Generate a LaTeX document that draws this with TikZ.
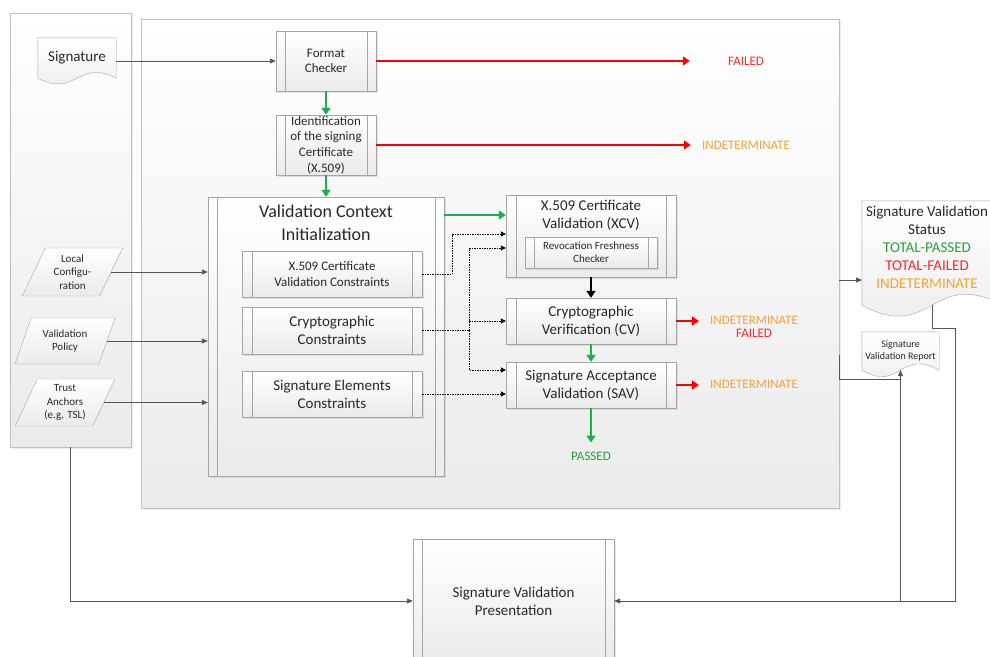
\documentclass[tikz,border=0pt]{standalone}
\usepackage{fontspec}
\setmainfont{Carlito}
\usetikzlibrary{arrows.meta,shapes.geometric,shadows,calc}
\pgfdeclarelayer{panels}
\pgfdeclarelayer{docs}
\pgfsetlayers{panels,docs,main}
\definecolor{cgreen}{RGB}{30,176,72}
\definecolor{cred}{RGB}{255,0,0}
\definecolor{lred}{RGB}{255,40,40}
\definecolor{corange}{RGB}{248,162,45}
\definecolor{lgreen}{RGB}{40,160,60}
\definecolor{cline}{RGB}{85,85,85}
\definecolor{cborder}{RGB}{165,165,165}
\definecolor{ctext}{RGB}{40,40,40}
\newcommand{\fsz}[2]{\fontsize{#1}{#2}\selectfont}
\tikzset{
 panel/.style={draw=black!25, top color=white, bottom color=black!8, inner sep=0pt,
   drop shadow={shadow xshift=1.5pt, shadow yshift=-1.5pt, opacity=0.15}},
 box/.style={draw=cborder, top color=white, bottom color=black!8, inner sep=0pt, align=center, text=ctext,
   drop shadow={shadow xshift=1.5pt, shadow yshift=-1.5pt, opacity=0.2}},
 sidebar/.style={path picture={\draw[cborder] ([xshift=#1]path picture bounding box.north west) -- ([xshift=#1]path picture bounding box.south west) ([xshift=-#1]path picture bounding box.north east) -- ([xshift=-#1]path picture bounding box.south east);}},
 sidebar/.default=9pt,
 txt/.style={inner sep=0pt, align=center, text=ctext},
 conn/.style={draw=cline, line width=0.9pt, -{Triangle[length=6pt,width=5pt]}},
 plainc/.style={draw=cline, line width=0.9pt},
 garrow/.style={draw=cgreen, line width=2.6pt, -{Triangle[length=7pt,width=9pt]}},
 rarrow/.style={draw=cred, line width=2.6pt, -{Triangle[length=7pt,width=9pt]}},
 karrow/.style={draw=black, line width=2.6pt, -{Triangle[length=7pt,width=9pt]}},
 dotc/.style={draw=black, line width=0.9pt, dash pattern=on 1.5pt off 1pt, -{Triangle[length=5pt,width=5pt]}},
 dotl/.style={draw=black, line width=0.9pt, dash pattern=on 1.5pt off 1pt},
 para/.style={trapezium, trapezium left angle=65, trapezium right angle=115, trapezium stretches=true,
   draw=cborder, top color=white, bottom color=black!8, inner sep=0pt, align=center, text=ctext,
   font=\fsz{11}{13.3}},
 doc/.style={draw=cborder, top color=white, bottom color=black!8},
 lbl/.style={inner sep=0pt, align=center, font=\fsz{13}{12.7}},
}
\begin{document}
\begin{tikzpicture}[x=1pt,y=-1pt]
\useasboundingbox (0,0) rectangle (990,656);
% panels
\begin{pgfonlayer}{panels}
\node[panel, minimum width=121, minimum height=434] (lp) at (70.5,230) {};
\node[panel, minimum width=698, minimum height=489] (mp) at (490,263.5) {};
\end{pgfonlayer}

% left inputs
\node[txt, minimum width=78, minimum height=40, font=\fsz{15}{18}] (sig) at (77,58) {Signature};
\begin{pgfonlayer}{docs}
\path[doc] (sig.north west) -- (sig.north east) -- (sig.south east)
  .. controls ($(sig.south)+(0,-20)$) and ($(sig.south)+(0,20)$) .. (sig.south west) -- cycle;
\end{pgfonlayer}
\node[para, minimum width=101, minimum height=48] (lc) at (72.5,272) {Local\\Configu-\\ration};
\node[para, minimum width=100, minimum height=46] (vp) at (65,341) {Validation\\Policy};
\node[para, minimum width=100, minimum height=47] (ta) at (65,402.5) {Trust\\Anchors\\(e.g. TSL)};

% main column
\node[box, sidebar, minimum width=100, minimum height=60, font=\fsz{13}{15.7}] (fc) at (326,61) {Format\\Checker};
\node[box, sidebar, minimum width=100, minimum height=60, font=\fsz{13}{15.7}] (idc) at (326,145) {Identification\\of the signing\\Certificate\\(X.509)};
\node[box, sidebar, minimum width=236, minimum height=279] (vci) at (326,336.5) {};
\node[txt, font=\fsz{18}{23}] (vcit) at (326,222.5) {Validation Context\\Initialization};
\node[box, sidebar=10pt, minimum width=180, minimum height=46, font=\fsz{13}{15.7}] (xvc) at (332,274) {X.509 Certificate\\Validation Constraints};
\node[box, sidebar=10pt, minimum width=180, minimum height=47, font=\fsz{15}{18.3}] (cc) at (332,330.5) {Cryptographic\\Constraints};
\node[box, sidebar=10pt, minimum width=180, minimum height=46, font=\fsz{15}{18.3}] (sec) at (332,394) {Signature Elements\\Constraints};

% validation blocks
\node[box, sidebar=10pt, minimum width=170, minimum height=82] (xcv) at (591,236) {};
\node[txt, font=\fsz{15}{18}] (xcvt) at (591,215) {X.509 Certificate\\Validation (XCV)};
\node[box, sidebar, minimum width=132, minimum height=31, font=\fsz{11}{13.3}] (rfc) at (591,252.5) {Revocation Freshness\\Checker};
\node[box, sidebar=10pt, minimum width=170, minimum height=46, font=\fsz{15}{18}] (cv) at (591,321) {Cryptographic\\Verification (CV)};
\node[box, sidebar=10pt, minimum width=170, minimum height=46, font=\fsz{15}{18}] (sav) at (591,385) {Signature Acceptance\\Validation (SAV)};

% result labels
\node[lbl, minimum width=90, text=lred] (fail1) at (746,61) {FAILED};
\node[lbl, minimum width=90, text=corange] (ind1) at (746,145) {INDETERMINATE};
\node[lbl] (ind2) at (754,327) {\textcolor{corange}{INDETERMINATE}\\\textcolor{lred}{FAILED}};
\node[lbl, text=corange] (ind3) at (754,384) {INDETERMINATE};
\node[lbl, text=lgreen] (passed) at (591,456) {PASSED};

% outputs
\node[txt, minimum width=140, minimum height=104] (svs) at (932,253) {};
\begin{pgfonlayer}{docs}
\path[doc] (svs.north west) -- (svs.north east) -- (svs.south east)
  .. controls ($(svs.south)+(0,-38)$) and ($(svs.south)+(0,38)$) .. (svs.south west) -- cycle;
\end{pgfonlayer}
\node[txt, font=\fsz{15}{18}] (svst) at (927,247.5) {Signature Validation\\Status\\\textcolor{lgreen}{TOTAL-PASSED}\\\textcolor{lred}{TOTAL-FAILED}\\\textcolor{corange}{INDETERMINATE}};
\node[txt, minimum width=77, minimum height=38, font=\fsz{10}{11.7}] (rep) at (900.5,351) {Signature\\Validation Report};
\begin{pgfonlayer}{docs}
\path[doc] (rep.north west) -- (rep.north east) -- (rep.south east)
  .. controls ($(rep.south)+(0,-22)$) and ($(rep.south)+(0,22)$) .. (rep.south west) -- cycle;
\end{pgfonlayer}
\node[box, sidebar, minimum width=201, minimum height=124, font=\fsz{15}{18.3}, drop shadow={opacity=0}] (pres) at (513.5,601) {Signature Validation\\Presentation};

\coordinate (svsin) at (862,280);
\coordinate (rbend) at (955,601);

% gray connectors
\draw[conn] (sig.east |- fc.west) -- (fc.west);
\draw[conn] (lc.east) -- (lc.east -| vci.west);
\draw[conn] (vp.east) -- (vp.east -| vci.west);
\draw[conn] (ta.east) -- (ta.east -| vci.west);
\draw[conn] (lp.south) |- (pres.west);
\draw[conn] (mp.east |- svsin) -- (svsin);
\draw[conn] (svs.south) -- ++(0,23) -| (rbend) -- (pres.east);
\draw[conn] ([yshift=-91.5pt]mp.east) |- ($(rep.south)+(0,9)$) -- (rep.south);
\draw[plainc] (rep.south) -- (rep.south |- pres.east);

% green / red / black flow
\draw[garrow] (fc.south) -- (idc.north);
\draw[garrow] (idc.south) -- (vci.north);
\draw[garrow] (vci.east |- xcvt) -- (xcv.west |- xcvt);
\draw[karrow] (xcv.south) -- (cv.north);
\draw[garrow] (cv.south) -- (sav.north);
\draw[garrow, shorten >=9pt] (sav.south) -- (passed.north);
\draw[rarrow, shorten >=11pt] (fc.east) -- (fail1.west);
\draw[rarrow, shorten >=10pt] (idc.east) -- (ind1.west);
\draw[rarrow, shorten >=11pt] (cv.east) -- (cv.east -| ind2.west);
\draw[rarrow, shorten >=11pt] (sav.east) -- (sav.east -| ind3.west);

% dotted constraint connectors
\draw[dotc] (xvc.east) -- ++(30,0) |- ([yshift=2pt]xcv.west);
\draw[dotl] (cc.east) -- ++(47,0) coordinate (cj);
\draw[dotc] (cj) |- ([yshift=-12pt]xcv.west);
\draw[dotc] (cj |- cv.west) -- (cv.west);
\draw[dotc] (cj) |- ([yshift=15pt]sav.west);
\draw[dotc] (sec.east) -- (sec.east -| sav.west);
\end{tikzpicture}
\end{document}
